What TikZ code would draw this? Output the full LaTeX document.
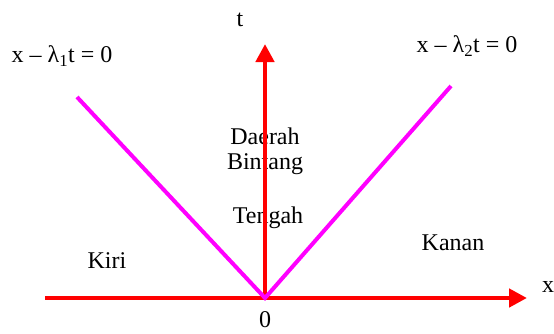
\documentclass[tikz,border=0pt]{standalone}
\usepackage{fontspec}
\setmainfont{Liberation Serif}
\usetikzlibrary{arrows.meta}
\definecolor{charmag}{RGB}{255,0,255}
\definecolor{axisred}{RGB}{255,0,0}
\tikzset{
  axis/.style={draw=axisred,line width=4.5pt,-{Triangle[length=18pt,width=18pt]}},
  charline/.style={draw=charmag,line width=4pt},
  lbl/.style={font=\fontsize{24}{28}\selectfont,inner sep=0pt}
}
\begin{document}
\begin{tikzpicture}[x=1pt,y=-1pt]
\useasboundingbox (0,0) rectangle (554,333);

% region labels
\node[lbl] (daerah) at (265,136) {Daerah};
\node[lbl] (bintang) at (265,164) {Bintang};
\node[lbl] (tengah) at (268,218) {Tengah};
\node[lbl] (kiri) at (107,261) {Kiri};
\node[lbl] (kanan) at (453,243) {Kanan};

% axes
\coordinate (O) at (265,298);
\coordinate (xstart) at (45,298);
\coordinate (xend) at (527,298);
\coordinate (tend) at (265,44);
\draw[axis] (xstart) -- (xend);
\draw[axis] (O) -- (tend);

% characteristic lines
\coordinate (leftend) at (77,97);
\coordinate (rightend) at (451,86);
\draw[charline,line join=miter] (leftend) -- (O) -- (rightend);

\node[lbl] (tlabel) at (240,20) {t};
\node[lbl] (xlabel) at (548,287) {x};
\node[lbl] (zero) at (265,320) {0};
\node[lbl] (lam1) at (62,56) {x – λ\textsubscript{1}t = 0};
\node[lbl] (lam2) at (467,46) {x – λ\textsubscript{2}t = 0};
\end{tikzpicture}
\end{document}
